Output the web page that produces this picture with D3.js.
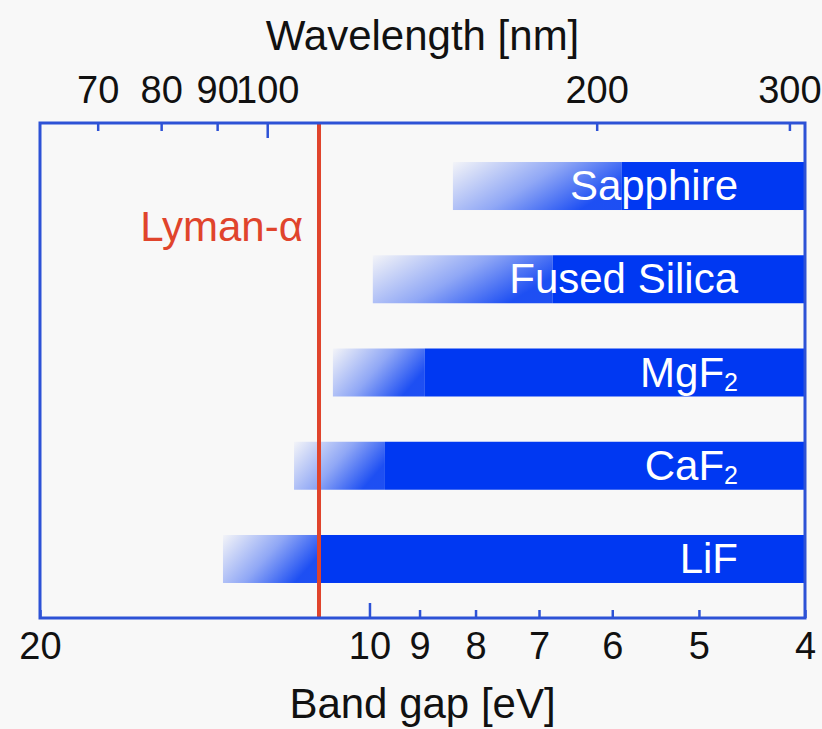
<!DOCTYPE html>
<html>
<head>
<meta charset="utf-8">
<script src="https://cdn.jsdelivr.net/npm/d3@7"></script>
<style>
  html, body { margin: 0; padding: 0; background: #f8f8f8; }
  svg { display: block; }
  text { font-family: "Liberation Sans", Arial, Helvetica, sans-serif; }
</style>
</head>
<body>
<svg id="chart" width="822" height="729"></svg>
<script>
// Window materials and their absorption edges (band gap, eV)
const materials = ["Sapphire", "Fused Silica", "MgF2", "CaF2", "LiF"];
const fadeStartEV = [8.39, 9.93, 10.80, 11.72, 13.61];   // where transmission begins
const solidFromEV = [5.88, 6.80, 8.90, 9.68, 11.14];     // fully transparent from here
const bandEndEV = 4;

// Axis ticks
const energyTicks = [20, 10, 9, 8, 7, 6, 5, 4];
const wavelengthTicks = [70, 80, 90, 100, 200, 300];
const lymanAlphaEV = 11.12;
const HC = 1240; // eV·nm

const W = 822, H = 729;
const plotLeft = 40, plotRight = 805, plotTop = 123, plotBottom = 618;
const blue = "#0038f2", frameBlue = "#2d52d6", red = "#e0442c";

const svg = d3.select("#chart");
svg.append("rect").attr("width", W).attr("height", H).attr("fill", "#f8f8f8");

const x = d3.scaleLog().domain([20, 4]).range([plotLeft, plotRight]);
const xWave = d3.scaleLog().domain([HC / 20, HC / 4]).range([plotLeft, plotRight]);
const y = d3.scaleBand().domain(materials).range([plotTop + 2, plotBottom + 2])
  .paddingInner(0.4853).paddingOuter(0.397);

const defs = svg.append("defs");
const grad = defs.append("linearGradient").attr("id", "fade")
  .attr("x1", 0).attr("y1", 0).attr("x2", 1).attr("y2", 0.45);
grad.append("stop").attr("offset", 0).attr("stop-color", blue).attr("stop-opacity", 0.02);
grad.append("stop").attr("offset", 0.55).attr("stop-color", blue).attr("stop-opacity", 0.42);
grad.append("stop").attr("offset", 1).attr("stop-color", blue).attr("stop-opacity", 0.88);

const rows = materials.map((m, i) => ({ name: m, start: fadeStartEV[i], solid: solidFromEV[i] }));

const bars = svg.append("g");
bars.selectAll("rect.fade").data(rows).join("rect")
  .attr("class", "fade")
  .attr("x", d => x(d.start))
  .attr("y", d => y(d.name))
  .attr("width", d => x(d.solid) - x(d.start))
  .attr("height", y.bandwidth())
  .attr("fill", "url(#fade)");
bars.selectAll("rect.solid").data(rows).join("rect")
  .attr("class", "solid")
  .attr("x", d => x(d.solid))
  .attr("y", d => y(d.name))
  .attr("width", d => x(bandEndEV) - x(d.solid))
  .attr("height", y.bandwidth())
  .attr("fill", blue);

// Material names, with chemical subscripts
const labels = bars.selectAll("text.name").data(rows).join("text")
  .attr("class", "name")
  .attr("x", x(bandEndEV) - 67)
  .attr("y", d => y(d.name) + y.bandwidth() / 2 + 14)
  .attr("text-anchor", "end")
  .attr("fill", "#ffffff")
  .attr("font-size", 42);
labels.each(function (d) {
  const t = d3.select(this);
  const m = d.name.match(/^(.*?)(\d+)$/);
  if (m) {
    t.append("tspan").text(m[1]);
    t.append("tspan").attr("font-size", 25).attr("dy", 4).text(m[2]);
  } else {
    t.text(d.name);
  }
});

// Lyman-alpha line
svg.append("line")
  .attr("x1", x(lymanAlphaEV)).attr("x2", x(lymanAlphaEV))
  .attr("y1", plotTop).attr("y2", plotBottom)
  .attr("stroke", red).attr("stroke-width", 4);
svg.append("text")
  .attr("x", x(lymanAlphaEV) - 16).attr("y", 241)
  .attr("text-anchor", "end").attr("fill", red).attr("font-size", 42)
  .text("Lyman-α");

// Bottom axis: band gap
const axB = svg.append("g").attr("transform", `translate(0,${plotBottom})`)
  .call(d3.axisBottom(x).tickValues(energyTicks).tickFormat(d3.format("d"))
    .tickSizeInner(-8).tickSizeOuter(0).tickPadding(14));
axB.select(".domain").remove();
axB.selectAll(".tick line").attr("stroke", frameBlue).attr("stroke-width", 2.5)
  .attr("y2", d => d === 10 ? -15 : -8);
axB.selectAll(".tick text").attr("font-size", 38).attr("fill", "#111");

// Top axis: wavelength
const axT = svg.append("g").attr("transform", `translate(0,${plotTop})`)
  .call(d3.axisTop(xWave).tickValues(wavelengthTicks).tickFormat(d3.format("d"))
    .tickSizeInner(-8).tickSizeOuter(0).tickPadding(20));
axT.select(".domain").remove();
axT.selectAll(".tick line").attr("stroke", frameBlue).attr("stroke-width", 2.5)
  .attr("y2", d => d === 100 ? 15 : 8);
axT.selectAll(".tick text").attr("font-size", 38).attr("fill", "#111");

// Frame
svg.append("rect")
  .attr("x", plotLeft).attr("y", plotTop)
  .attr("width", plotRight - plotLeft).attr("height", plotBottom - plotTop)
  .attr("fill", "none").attr("stroke", frameBlue).attr("stroke-width", 3);

// Axis titles
svg.append("text").attr("x", (plotLeft + plotRight) / 2).attr("y", 50)
  .attr("text-anchor", "middle").attr("font-size", 42).attr("fill", "#111")
  .text("Wavelength [nm]");
svg.append("text").attr("x", (plotLeft + plotRight) / 2).attr("y", 718)
  .attr("text-anchor", "middle").attr("font-size", 42).attr("fill", "#111")
  .text("Band gap [eV]");
</script>
</body>
</html>
